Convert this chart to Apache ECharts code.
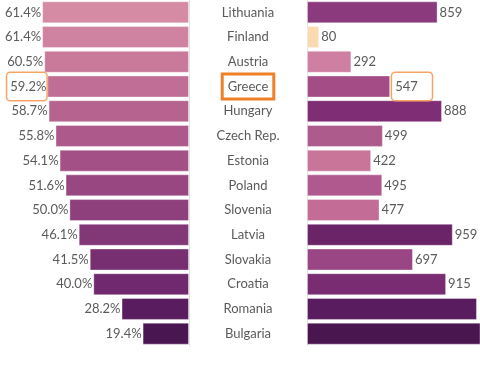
<!DOCTYPE html>
<html>
<head>
<meta charset="utf-8">
<script src="https://cdn.jsdelivr.net/npm/echarts@6/dist/echarts.min.js"></script>
<style>
html,body{margin:0;padding:0;background:#fff;}
#c{width:480px;height:384px;}
</style>
</head>
<body>
<div id="c"></div>
<script>
var countries = ['Lithuania','Finland','Austria','Greece','Hungary','Czech Rep.','Estonia','Poland','Slovenia','Latvia','Slovakia','Croatia','Romania','Bulgaria'];
var shareValues = [61.4, 61.4, 60.5, 59.2, 58.7, 55.8, 54.1, 51.6, 50.0, 46.1, 41.5, 40.0, 28.2, 19.4];
var countValues = [859, 80, 292, 547, 888, 499, 422, 495, 477, 959, 697, 915, 1118, 1260];
var highlight = 'Greece';

var leftColors = ['#d68ba5','#d083a0','#c97a9b','#c06e95','#b6638f','#ad598b','#a25085','#984780','#8e407c','#823777','#782f72','#70296e','#591d5f','#4a1652'];
var rightColors = ['#8b3a7d','#fbd9b1','#cf7fa1','#a34c86','#7f2e75','#ad5a8d','#c87599','#b0598e','#c26c96','#6c2468','#9a4584','#7a2c72','#591c5e','#4a1650'];

var fontFam = 'Lato, "Open Sans", sans-serif';
var txtColor = '#5a5a5a';

var chart = echarts.init(document.getElementById('c'), null, {renderer:'canvas'});
chart.setOption({
  animation: false,
  grid: [
    {left: 0, top: 0, width: 189, height: 346},
    {left: 307, top: 0, right: 0, height: 346}
  ],
  xAxis: [
    {gridIndex: 0, type: 'value', min: 0, max: 79, inverse: true, show: false},
    {gridIndex: 1, type: 'value', min: 0, max: 1138, show: false}
  ],
  yAxis: [
    {gridIndex: 0, type: 'category', data: countries, inverse: true, position: 'right',
     axisLine: {show: true, lineStyle: {color: '#e2e2e2', width: 1}},
     axisTick: {show: false},
     axisLabel: {
       margin: 59, align: 'center', fontSize: 13, fontFamily: fontFam, color: txtColor,
       formatter: function (v) { return v === highlight ? '{hl|' + v + '}' : v; },
       rich: {hl: {fontSize: 13, fontFamily: fontFam, color: txtColor, borderColor: '#f07f28', borderWidth: 3, padding: [5, 4, 4, 4], backgroundColor: '#fff'}}
     }},
    {gridIndex: 1, type: 'category', data: countries, inverse: true,
     axisLine: {show: true, lineStyle: {color: '#e2e2e2', width: 1}},
     axisTick: {show: false}, axisLabel: {show: false}}
  ],
  series: [
    {type: 'bar', xAxisIndex: 0, yAxisIndex: 0, barWidth: 22,
     data: shareValues.map(function (v, i) { return {value: v, itemStyle: {color: leftColors[i]}}; }),
     itemStyle: {borderColor: 'rgba(255,255,255,0.35)', borderWidth: 1},
     label: {show: true, position: 'left', distance: 1, fontSize: 13, fontFamily: fontFam, color: txtColor,
       formatter: function (p) {
         var s = p.value.toFixed(1) + '%';
         return countries[p.dataIndex] === highlight ? '{hl|' + s + '}' : s;
       },
       rich: {hl: {fontSize: 13, fontFamily: fontFam, color: txtColor, borderColor: '#f9a465', borderWidth: 1.5, borderRadius: 3, padding: [7, 0, 7, 3], backgroundColor: '#fff'}}
     }},
    {type: 'bar', xAxisIndex: 1, yAxisIndex: 1, barWidth: 22,
     data: countValues.map(function (v, i) { return {value: v, itemStyle: {color: rightColors[i]}}; }),
     itemStyle: {borderColor: 'rgba(255,255,255,0.35)', borderWidth: 1},
     label: {show: true, position: 'right', distance: 2, fontSize: 13, fontFamily: fontFam, color: txtColor,
       formatter: function (p) {
         var s = String(p.value);
         return countries[p.dataIndex] === highlight ? '{hl|' + s + '}' : s;
       },
       rich: {hl: {fontSize: 13, fontFamily: fontFam, color: txtColor, borderColor: '#f9a465', borderWidth: 1.5, borderRadius: 3, padding: [7, 14, 7, 3], backgroundColor: '#fff'}}
     }}
  ]
});
chart.setOption({series: [{}, {label: {distance: 2}}]});
</script>
</body>
</html>
